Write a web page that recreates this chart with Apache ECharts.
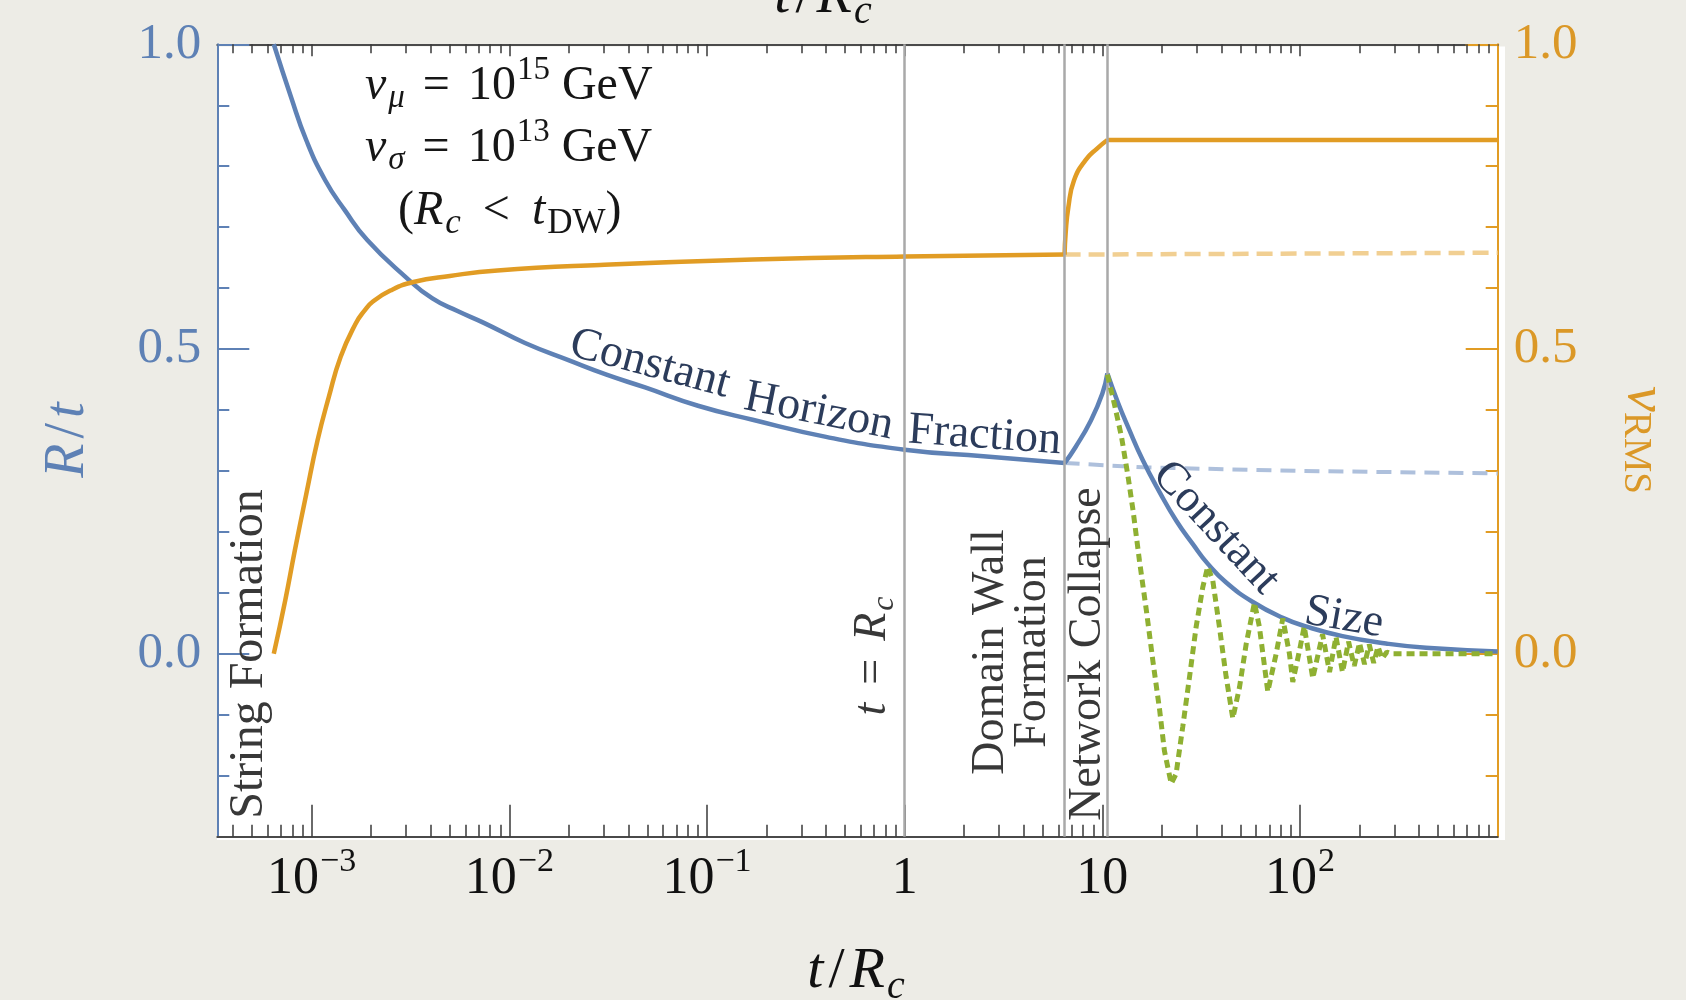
<!DOCTYPE html>
<html><head><meta charset="utf-8">
<script src="https://cdn.jsdelivr.net/npm/echarts@6/dist/echarts.min.js"></script>
<style>html,body{margin:0;padding:0;background:#edece6;}#c{width:1686px;height:1000px;}</style>
</head><body><div id="c"></div>
<script>
// ---------------- data ----------------
const xMin = 3.33e-4, xMax = 1000;
const yMin = -0.3, yMax = 1.0;

const xMajorTicks = [1e-3, 1e-2, 1e-1, 1, 10, 100];
const xTickBase = ['10', '10', '10', '1', '10', '10'];
const xTickExp = ['\u22123', '\u22122', '\u22121', '', '', '2'];
const xMinorTicks = [4e-4, 5e-4, 6e-4, 7e-4, 8e-4, 9e-4,
  2e-3, 3e-3, 4e-3, 5e-3, 6e-3, 7e-3, 8e-3, 9e-3,
  0.02, 0.03, 0.04, 0.05, 0.06, 0.07, 0.08, 0.09,
  0.2, 0.3, 0.4, 0.5, 0.6, 0.7, 0.8, 0.9,
  2, 3, 4, 5, 6, 7, 8, 9,
  20, 30, 40, 50, 60, 70, 80, 90,
  200, 300, 400, 500, 600, 700, 800, 900];
const yMajorTicks = [0, 0.5, 1.0];
const yMinorTicks = [-0.2, -0.1, 0.1, 0.2, 0.3, 0.4, 0.6, 0.7, 0.8, 0.9];

// event times (t/Rc) of the vertical lines
const eventT = [6.42e-4, 1, 6.44, 10.6];

// R/t, blue
const blueFormT = [6.43e-4, 7.85e-4, 9.38e-4, 1.17e-3, 1.47e-3, 1.91e-3, 2.99e-3, 4.08e-3, 5.5e-3, 7.43e-3, 0.012, 0.0202, 0.031, 0.0486, 0.09, 0.170, 0.4, 1, 2.5, 6.44];
const blueFormV = [1.0, 0.914, 0.843, 0.777, 0.728, 0.679, 0.618, 0.583, 0.562, 0.543, 0.510, 0.481, 0.458, 0.437, 0.407, 0.384, 0.356, 0.335, 0.324, 0.313];
const blueRiseT = [6.44, 7.31, 8.75, 10.0, 10.6];
const blueRiseV = [0.313, 0.339, 0.383, 0.427, 0.460];
const blueDecayT = [10.6, 12.0, 13.5, 16.0, 19.5, 23.7, 28.7, 34.1, 42.3, 57.7, 81.8, 107, 164, 272, 434, 1000];
const blueDecayV = [0.460, 0.412, 0.372, 0.318, 0.265, 0.218, 0.180, 0.148, 0.117, 0.085, 0.059, 0.045, 0.029, 0.017, 0.010, 0.004];
const blueDashT = [6.44, 16, 100, 1000];
const blueDashV = [0.313, 0.306, 0.300, 0.296];

// v_RMS, orange
const orangeFormT = [6.43e-4, 7.35e-4, 8.22e-4, 9.4e-4, 1.07e-3, 1.22e-3, 1.40e-3, 1.67e-3, 1.85e-3, 2.04e-3, 2.5e-3, 3.27e-3, 5.0e-3, 8.71e-3, 0.0287, 0.1706, 1, 6.44];
const orangeFormV = [0, 0.088, 0.170, 0.263, 0.350, 0.421, 0.487, 0.542, 0.563, 0.578, 0.596, 0.610, 0.620, 0.629, 0.638, 0.647, 0.652, 0.655];
const orangeJumpT = [6.44, 6.52, 6.73, 7.19, 8.22, 9.4, 10.6];
const orangeJumpV = [0.655, 0.690, 0.733, 0.777, 0.810, 0.829, 0.843];
const orangeFlatT = [10.6, 1000];
const orangeFlatV = [0.843, 0.843];
const orangeDashT = [6.44, 1000];
const orangeDashV = [0.655, 0.658];

// oscillating R/t, green dotted
const greenT = [10.6, 11.5, 12.5, 13.5, 14.3, 15.4, 16.7, 18.0, 19.5, 20.6, 22.3, 23.6, 25.5, 27.6, 29.8, 32.2, 34.1, 36.2, 39.1, 42.3, 45.7, 49.4, 53.4, 58.8, 62.3, 68.7, 75.7, 81.8, 88.4, 91.9, 99.3, 105, 116, 130, 141, 152, 164, 176, 188, 200, 212, 224, 236, 248, 260, 275, 290, 1000];
const greenV = [0.458, 0.41, 0.356, 0.29, 0.235, 0.153, 0.071, -0.011, -0.093, -0.159, -0.213, -0.197, -0.12, -0.038, 0.044, 0.109, 0.143, 0.12, 0.044, -0.038, -0.106, -0.055, 0.016, 0.084, 0.044, -0.062, 0.0, 0.058, 0.0, -0.046, 0.005, 0.045, -0.04, 0.032, -0.03, 0.028, -0.03, 0.02, -0.02, 0.018, -0.017, 0.015, -0.015, 0.012, -0.008, 0.003, 0, 0];

// ---------------- style ----------------
const FAM = '"Liberation Serif", "Times New Roman", serif';
const BLUE = '#5E81B5', ORANGE = '#E19C24', GREEN = '#8FB032';
const BLUE_T = '#5E81B5', ORANGE_T = '#DB9827';
const AXIS_DARK = '#4a4a4a';
const NAVY = '#2c3c5b', GREYTXT = '#383838';

const zip = (a, b) => a.map((v, i) => [v, b[i]]);

function xLabel(val) {
  const k = xMajorTicks.findIndex(t => Math.abs(Math.log10(t) - Math.log10(val)) < 1e-6);
  if (k < 0) return '';
  return xTickExp[k] ? '{b|' + xTickBase[k] + '}{s|' + xTickExp[k] + '}' : '{b|' + xTickBase[k] + '}';
}

function xAxisDef(pos, ticks, len, withLine, withLabel) {
  return {
    type: 'log', logBase: 10, min: xMin, max: xMax, position: pos, gridIndex: 0,
    axisLine: { show: withLine, onZero: false, lineStyle: { color: AXIS_DARK, width: 2 } },
    axisTick: { show: true, inside: true, length: len, customValues: ticks, lineStyle: { color: '#3a3a3a', width: 1.5 } },
    axisLabel: withLabel ? {
      show: true, customValues: xMajorTicks, formatter: xLabel, margin: 8,
      rich: {
        b: { fontFamily: FAM, fontSize: 52, color: '#111', lineHeight: 70 },
        s: { fontFamily: FAM, fontSize: 34, color: '#111', lineHeight: 70, padding: [0, 0, 36, 1] }
      }
    } : { show: false },
    splitLine: { show: false }, minorTick: { show: false }, minorSplitLine: { show: false }
  };
}
function yAxisDef(pos, ticks, len, color, tcolor, withLine, withLabel) {
  return {
    type: 'value', min: yMin, max: yMax, position: pos,
    axisLine: { show: withLine, onZero: false, lineStyle: { color: color, width: 2 } },
    axisTick: { show: true, inside: true, length: len, customValues: ticks, lineStyle: { color: color, width: 2 } },
    axisLabel: withLabel ? {
      show: true, customValues: yMajorTicks, margin: 16,
      formatter: v => Number(v).toFixed(1), fontFamily: FAM, fontSize: 51, color: tcolor
    } : { show: false },
    splitLine: { show: false }
  };
}

function lineSeries(data, color, width, yIdx, opts) {
  return Object.assign({
    type: 'line', data: data, xAxisIndex: 0, yAxisIndex: yIdx, showSymbol: false, symbol: 'none',
    smooth: 0.5, silent: true, z: 3,
    lineStyle: { color: color, width: width, cap: 'butt', join: 'round' }
  }, opts || {});
}

const option = {
  backgroundColor: '#edece6',
  animation: false,
  tooltip: { show: false },
  grid: { left: 217.3, right: 188.3, top: 44.3, bottom: 163.3, containLabel: false, outerBoundsMode: 'none' },
  xAxis: [
    xAxisDef('bottom', xMajorTicks, 32, true, true),
    xAxisDef('bottom', xMinorTicks, 12, false, false),
    xAxisDef('top', xMajorTicks, 12, true, false),
    xAxisDef('top', xMinorTicks, 9, false, false)
  ],
  yAxis: [
    yAxisDef('left', yMajorTicks, 32, BLUE, BLUE_T, true, true),
    yAxisDef('left', yMinorTicks, 12, BLUE, BLUE_T, false, false),
    yAxisDef('right', yMajorTicks, 32, ORANGE, ORANGE_T, true, true),
    yAxisDef('right', yMinorTicks, 12, ORANGE, ORANGE_T, false, false)
  ],
  series: [
    {
      type: 'line', data: [], xAxisIndex: 0, yAxisIndex: 0, silent: true, z: 1,
      markLine: {
        silent: true, symbol: ['none', 'none'], label: { show: false }, animation: false,
        lineStyle: { color: '#a9a9a9', width: 2.5, type: 'solid' },
        emphasis: { disabled: true },
        data: eventT.map(t => ({ xAxis: t }))
      }
    },
    lineSeries(zip(blueDashT, blueDashV), '#aec0dc', 4, 0, { smooth: false, z: 2, lineStyle: { color: '#aec0dc', width: 4, type: [15, 9] } }),
    lineSeries(zip(orangeDashT, orangeDashV), '#f1cf92', 4, 2, { smooth: false, z: 2, lineStyle: { color: '#f1cf92', width: 4.5, type: [16, 8] } }),
    lineSeries(zip(blueFormT, blueFormV), BLUE, 4.5, 0),
    lineSeries(zip(blueRiseT, blueRiseV), BLUE, 4.5, 0),
    lineSeries(zip(blueDecayT, blueDecayV), BLUE, 4.5, 0),
    lineSeries(zip(orangeFormT, orangeFormV), ORANGE, 4.5, 2, { z: 4 }),
    lineSeries(zip(orangeJumpT, orangeJumpV), ORANGE, 4.5, 2, { z: 4 }),
    lineSeries(zip(orangeFlatT, orangeFlatV), ORANGE, 4.5, 2, { z: 4, smooth: false }),
    lineSeries(zip(greenT, greenV), GREEN, 5, 0, { z: 5, smooth: false, lineStyle: { color: GREEN, width: 5, type: [8, 5] } })
  ]
};

// ---------------- annotations ----------------
function txt(x, y, rotDeg, text, size, color, extra) {
  return {
    type: 'text', x: x, y: y, rotation: rotDeg * Math.PI / 180, z: 100, silent: true,
    style: Object.assign({
      text: text, fontFamily: FAM, fontSize: size, fill: color,
      align: 'center', verticalAlign: 'middle', textAlign: 'center', textVerticalAlign: 'middle'
    }, extra || {})
  };
}
function mathRich(size, subSize, color) {
  return {
    n: { fontFamily: FAM, fontSize: size, color: color },
    i: { fontFamily: FAM, fontSize: size, fontStyle: 'italic', color: color },
    eq: { fontFamily: FAM, fontSize: size, color: color, padding: [0, 18, 0, 18] },
    lt: { fontFamily: FAM, fontSize: size, color: color, padding: [0, 22, 0, 22] },
    sl: { fontFamily: FAM, fontSize: size, color: color, padding: [0, 5, 0, 5] },
    sub: { fontFamily: FAM, fontSize: subSize, fontStyle: 'italic', color: color, padding: [Math.round(subSize * 0.75), 0, 0, 2] },
    subr: { fontFamily: FAM, fontSize: subSize, color: color, padding: [Math.round(subSize * 0.75), 0, 0, 2] },
    sup: { fontFamily: FAM, fontSize: subSize, color: color, padding: [0, 0, Math.round(subSize * 0.95), 1] }
  };
}
const L = { align: 'left', textAlign: 'left' };
const blk = '#161616';

const graphics = [
  { type: 'rect', z: -10, silent: true, shape: { x: 217, y: 46.5, width: 1288, height: 793.5 }, style: { fill: '#ffffff' } },
  // parameter box
  txt(365, 86, 0, '{i|v}{sub|\u03bc}{eq|=}{n|10}{sup|15}{n| GeV}', 48, blk, Object.assign({ rich: mathRich(48, 33, blk) }, L)),
  txt(365, 148, 0, '{i|v}{sub|\u03c3}{eq|=}{n|10}{sup|13}{n| GeV}', 48, blk, Object.assign({ rich: mathRich(48, 33, blk) }, L)),
  txt(398, 211, 0, '{n|(}{i|R}{sub|c}{lt|<}{i|t}{subr|DW}{n|)}', 48, blk, Object.assign({ rich: mathRich(48, 35, blk) }, L)),
  // curve labels
  txt(571, 343, -15, 'Constant', 46, NAVY, L),
  txt(745, 397, -11.4, 'Horizon', 46, NAVY, L),
  txt(908, 430.5, -4, 'Fraction', 46, NAVY, L),
  txt(1160, 468, -47, 'Constant', 46, NAVY, L),
  txt(1305, 611, -10, 'Size', 46, NAVY, L),
  // vertical event labels
  txt(249.8, 654, 90, 'String Formation', 48, GREYTXT),
  txt(872.5, 656, 90, '{i|t}{eq|=}{i|R}{sub|c}', 46, GREYTXT, { rich: mathRich(46, 32, GREYTXT) }),
  txt(990.5, 652, 90, 'Domain Wall', 46, GREYTXT),
  txt(1032.5, 652, 90, 'Formation', 46, GREYTXT),
  txt(1087.5, 654, 90, 'Network Collapse', 46, GREYTXT),
  // axis titles
  txt(68, 440, 90, '{i|R}{sl|/}{i|t}', 56, BLUE_T, { rich: mathRich(56, 40, BLUE_T) }),
  txt(1644, 440, -90, '{i|v}{subr|RMS}', 58, ORANGE_T, { rich: Object.assign(mathRich(58, 39, ORANGE_T), { subr: { fontFamily: FAM, fontSize: 39, color: ORANGE_T, padding: [18, 0, 0, 0] } }) }),
  txt(856, 972, 0, '{i|t}{sl|/}{i|R}{sub|c}', 58, '#111', { rich: mathRich(58, 40, '#111') }),
  txt(823, -3, 0, '{i|t}{sl|/}{i|R}{sub|c}', 58, '#111', { rich: mathRich(58, 40, '#111') })
];
option.graphic = { elements: graphics };

const chart = echarts.init(document.getElementById('c'), null, { renderer: 'canvas', width: 1686, height: 1000 });
chart.setOption(option);
</script></body></html>
